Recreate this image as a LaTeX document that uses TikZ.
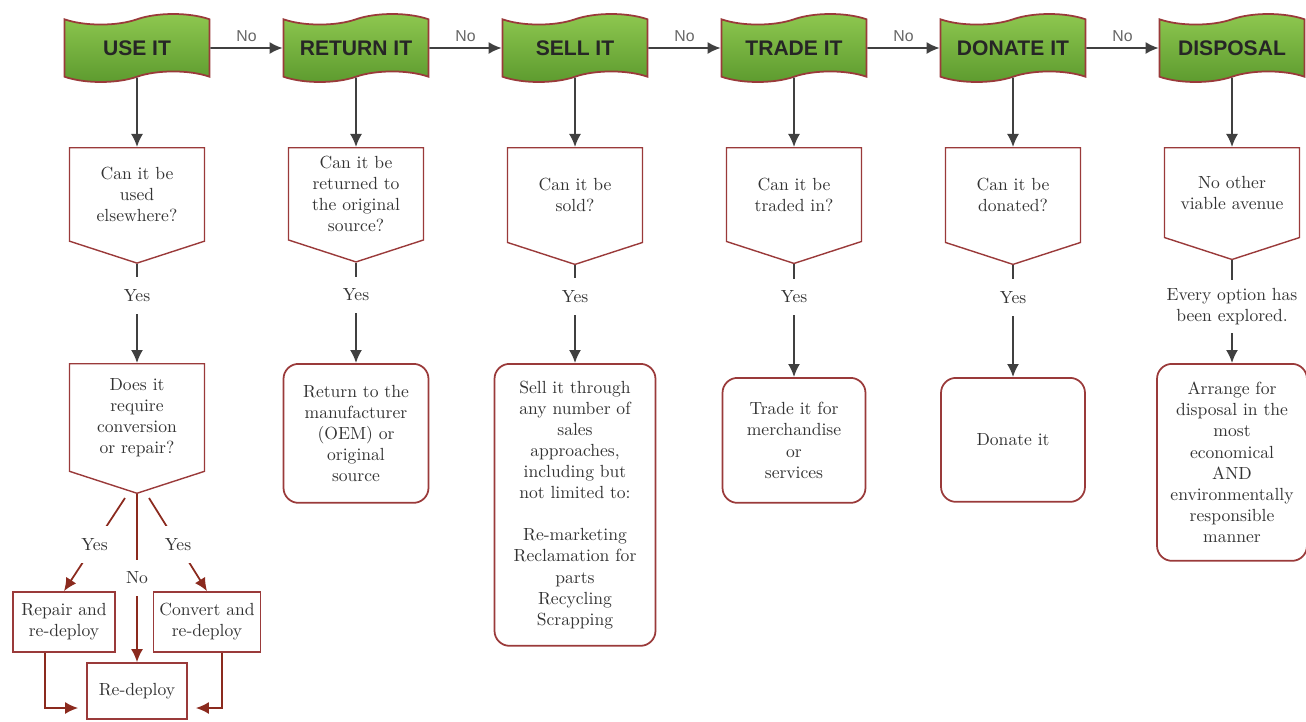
\documentclass[tikz,border=0pt]{standalone}
\usepackage{fontspec}
\newfontfamily\bannerfont{Liberation Sans}
\usepackage{tikz}
\usetikzlibrary{shapes.symbols,arrows.meta,positioning,calc}
\definecolor{bannertop}{HTML}{8FC850}
\definecolor{bannerbottom}{HTML}{5C9A2E}
\definecolor{boxred}{HTML}{9A3A3A}
\definecolor{linkred}{HTML}{8B2A1E}
\definecolor{textgray}{HTML}{333333}

\begin{document}
\begin{tikzpicture}[x=0.02cm,y=-0.02cm,
  banner/.style={tape,draw=boxred,line width=1pt,
                 top color=bannertop,bottom color=bannerbottom,
                 minimum width=2.9cm,minimum height=1.36cm,tape bend height=6pt,
                 font=\bannerfont\bfseries\fontsize{12}{14}\selectfont,text=black!85},
  question/.style={signal,signal to=south,signal from=nowhere,signal pointer angle=144,
                   draw=boxred,line width=0.8pt,minimum width=2.7cm,minimum height=2.17cm,
                   align=center,text=textgray},
  result/.style={draw=boxred,line width=1pt,rounded corners=0.3cm,
                 align=center,text=textgray},
  action/.style={draw=boxred,line width=1pt,align=center,text=textgray,
                 minimum width=2.04cm,minimum height=1.2cm},
  arrow/.style={-{Latex[length=2.6mm,width=2.4mm]},line width=1pt,color=black!75},
  link/.style={-{Latex[length=2.6mm,width=2.4mm]},line width=1pt,color=linkred},
  answer/.style={fill=white,inner xsep=2pt,inner ysep=0.24cm,align=center,text=textgray},
  no/.style={above,font=\bannerfont\small,text=black!60}
]
\useasboundingbox (0,0) rectangle (1306,721);

% options, left to right
\node[banner] (use) at (137,48) {USE IT};
\node[banner] (return) at (356,48) {RETURN IT};
\node[banner] (sell) at (575,48) {SELL IT};
\node[banner] (trade) at (794,48) {TRADE IT};
\node[banner] (donate) at (1013,48) {DONATE IT};
\node[banner] (disposal) at (1232,48) {DISPOSAL};

\draw[arrow] (use) -- node[no]{No} (return);
\draw[arrow] (return) -- node[no]{No} (sell);
\draw[arrow] (sell) -- node[no]{No} (trade);
\draw[arrow] (trade) -- node[no]{No} (donate);
\draw[arrow] (donate) -- node[no]{No} (disposal);

% questions
\node[question,anchor=north] (useq) at (137,147) {Can it be\\used\\elsewhere?};
\node[question,anchor=north] (returnq) at (356,147) {Can it be\\returned to\\the original\\source?};
\node[question,anchor=north] (sellq) at (575,147) {Can it be\\sold?};
\node[question,anchor=north] (tradeq) at (794,147) {Can it be\\traded in?};
\node[question,anchor=north] (donateq) at (1013,147) {Can it be\\donated?};
\node[question,anchor=north] (disposalq) at (1232,147) {No other\\viable avenue};

\draw[arrow] (use) -- (useq);
\draw[arrow] (return) -- (returnq);
\draw[arrow] (sell) -- (sellq);
\draw[arrow] (trade) -- (tradeq);
\draw[arrow] (donate) -- (donateq);
\draw[arrow] (disposal) -- (disposalq);

% outcomes
\node[question,anchor=north,minimum height=2.45cm] (convq) at (137,363)
  {Does it\\require\\conversion\\or repair?};
\node[result,anchor=north,minimum width=2.9cm,minimum height=2.78cm] (returnr) at (356,363)
  {Return to the\\manufacturer\\(OEM) or\\original\\source};
\node[result,anchor=north,minimum width=3.22cm,minimum height=5.64cm] (sellr) at (575,363)
  {Sell it through\\any number of\\sales\\approaches,\\including but\\not limited to:\\[12pt]
   Re-marketing\\Reclamation for\\parts\\Recycling\\Scrapping};
\node[result,anchor=north,minimum width=2.86cm,minimum height=2.5cm] (trader) at (794,377)
  {Trade it for\\merchandise\\or\\services};
\node[result,anchor=north,minimum width=2.88cm,minimum height=2.48cm] (donater) at (1013,377)
  {Donate it};
\node[result,anchor=north,minimum width=3cm,minimum height=3.94cm] (disposalr) at (1232,363)
  {Arrange for\\disposal in the\\most\\economical\\AND\\environmentally\\responsible\\manner};

\draw[arrow] (useq.south) -- node[answer,pos=0.32]{Yes} (convq.north);
\draw[arrow] (returnq.south) -- node[answer,pos=0.32]{Yes} (returnr.north);
\draw[arrow] (sellq.south) -- node[answer,pos=0.32]{Yes} (sellr.north);
\draw[arrow] (tradeq.south) -- node[answer,pos=0.29]{Yes} (trader.north);
\draw[arrow] (donateq.south) -- node[answer,pos=0.29]{Yes} (donater.north);
\draw[arrow] (disposalq.south) -- node[answer,pos=0.45,inner ysep=0.16cm]{Every option has\\been explored.} (disposalr.north);

% use it: repair, convert or re-deploy
\node[action] (repair) at (64,622) {Repair and\\re-deploy};
\node[action] (convert) at (207,622) {Convert and\\re-deploy};
\node[action,minimum width=2cm,minimum height=1.12cm] (redeploy) at (137,691) {Re-deploy};

\draw[link] ($(convq.south)+(-12,4)$) -- node[answer]{Yes} (repair.north);
\draw[link] (convq.south) -- node[answer]{No} (redeploy.north);
\draw[link] ($(convq.south)+(12,4)$) -- node[answer]{Yes} (convert.north);
\draw[link] ($(repair.south)+(-19,0)$) |- ($(redeploy.west)+(-8,17)$);
\draw[link] ($(convert.south)+(15,0)$) |- ($(redeploy.east)+(8,17)$);
\end{tikzpicture}
\end{document}
